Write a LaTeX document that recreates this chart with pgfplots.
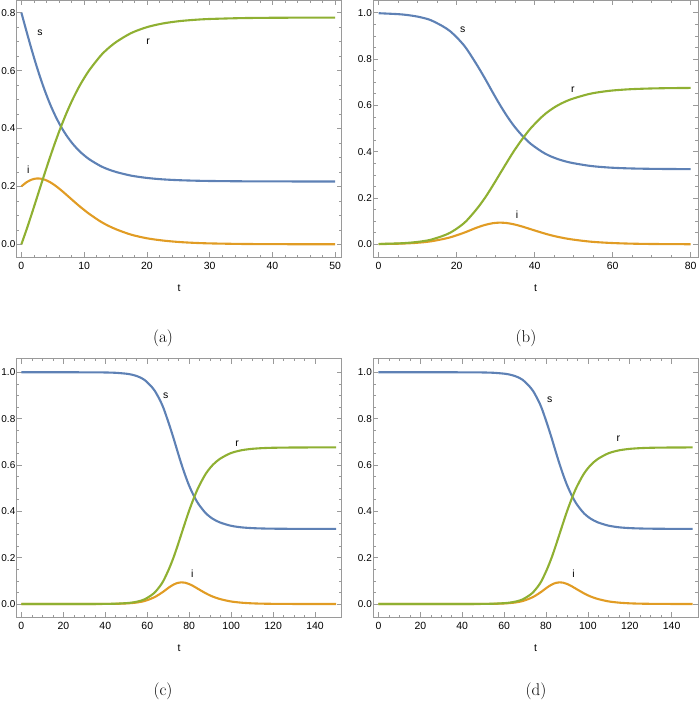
\documentclass[border=0pt]{standalone}
\usepackage{fontspec}
\newfontfamily\msans{Liberation Sans}
\usepackage{pgfplots}
\usepackage{pgfplotstable}
\pgfplotsset{compat=1.18}
\definecolor{mblue}{HTML}{5E81B5}
\definecolor{morange}{HTML}{E19C24}
\definecolor{mgreen}{HTML}{8FB032}
\definecolor{framegray}{HTML}{9A9A9A}

% SIR curves
\pgfplotstableread{
t s i r
0 0.8000 0.2000 0.0000
0.806 0.7360 0.2140 0.0500
1.570 0.6772 0.2228 0.1000
2.311 0.6230 0.2270 0.1500
3.046 0.5732 0.2268 0.2000
3.788 0.5274 0.2226 0.2500
4.550 0.4852 0.2148 0.3000
5.347 0.4464 0.2036 0.3500
6.196 0.4107 0.1893 0.4000
7.121 0.3779 0.1721 0.4500
8.153 0.3477 0.1523 0.5000
9.341 0.3199 0.1301 0.5500
10.771 0.2943 0.1057 0.6000
12.572 0.2708 0.0792 0.6500
13.73 0.2597 0.0653 0.6750
15.19 0.2491 0.0509 0.7000
17.5 0.2371 0.0332 0.7297
20 0.2292 0.0208 0.7500
22.5 0.2243 0.0131 0.7626
25 0.2215 0.0081 0.7704
27.5 0.2198 0.0050 0.7752
30 0.2187 0.0031 0.7782
35 0.2176 0.0012 0.7812
40 0.2172 0.0005 0.7824
45 0.2170 0.0002 0.7828
50 0.2169 0.0001 0.7830
}\tabA

\pgfplotstableread{
t s i r
0 0.9977 0.0009 0.0014
4.95 0.9937 0.0025 0.0038
7.45 0.9897 0.0041 0.0062
9.85 0.9835 0.0065 0.0100
11.95 0.9753 0.0097 0.0150
13.45 0.9672 0.0128 0.0200
16.25 0.9433 0.0217 0.0350
18.35 0.9200 0.0300 0.0500
20.65 0.8825 0.0425 0.0750
22.45 0.8465 0.0535 0.1000
25.05 0.7788 0.0712 0.1500
27.25 0.7165 0.0835 0.2000
29.15 0.6592 0.0908 0.2500
30.95 0.6065 0.0935 0.3000
32.75 0.5580 0.0920 0.3500
34.6 0.5134 0.0866 0.4000
36.65 0.4724 0.0776 0.4500
38.95 0.4346 0.0654 0.5000
41.85 0.3999 0.0502 0.5500
43.65 0.3835 0.0415 0.5750
45.95 0.3679 0.0321 0.6000
49.15 0.3529 0.0221 0.6250
54.25 0.3385 0.0115 0.6500
59.25 0.3312 0.0060 0.6628
64.25 0.3277 0.0030 0.6693
69.25 0.3260 0.0015 0.6725
74.25 0.3251 0.0008 0.6742
80 0.3246 0.0003 0.6751
}\tabB

\pgfplotstableread{
t s i r
0 1.0000 0.0000 0.0000
26.2 1.0000 0.0000 0.0000
35.2 0.9997 0.0001 0.0002
40.2 0.9992 0.0003 0.0005
45.2 0.9977 0.0009 0.0014
50.2 0.9937 0.0025 0.0038
52.7 0.9897 0.0041 0.0062
55.1 0.9835 0.0065 0.0100
57.2 0.9753 0.0097 0.0150
58.7 0.9672 0.0128 0.0200
61.5 0.9433 0.0217 0.0350
63.6 0.9200 0.0300 0.0500
65.9 0.8825 0.0425 0.0750
67.7 0.8465 0.0535 0.1000
70.3 0.7788 0.0712 0.1500
72.5 0.7165 0.0835 0.2000
74.4 0.6592 0.0908 0.2500
76.2 0.6065 0.0935 0.3000
78.0 0.5580 0.0920 0.3500
79.85 0.5134 0.0866 0.4000
81.9 0.4724 0.0776 0.4500
84.2 0.4346 0.0654 0.5000
87.1 0.3999 0.0502 0.5500
88.9 0.3835 0.0415 0.5750
91.2 0.3679 0.0321 0.6000
94.4 0.3529 0.0221 0.6250
99.5 0.3385 0.0115 0.6500
104.5 0.3312 0.0060 0.6628
109.5 0.3277 0.0030 0.6693
114.5 0.3260 0.0015 0.6725
119.5 0.3251 0.0008 0.6742
129.5 0.3244 0.0002 0.6754
139.5 0.3243 0.0001 0.6757
150 0.3242 0.0000 0.6758
}\tabC

\pgfplotstableread{
t s i r
0 1.0000 0.0000 0.0000
36.4 1.0000 0.0000 0.0000
45.4 0.9997 0.0001 0.0002
50.4 0.9992 0.0003 0.0005
55.4 0.9977 0.0009 0.0014
60.4 0.9937 0.0025 0.0038
62.9 0.9897 0.0041 0.0062
65.3 0.9835 0.0065 0.0100
67.4 0.9753 0.0097 0.0150
68.9 0.9672 0.0128 0.0200
71.7 0.9433 0.0217 0.0350
73.8 0.9200 0.0300 0.0500
76.1 0.8825 0.0425 0.0750
77.9 0.8465 0.0535 0.1000
80.5 0.7788 0.0712 0.1500
82.7 0.7165 0.0835 0.2000
84.6 0.6592 0.0908 0.2500
86.4 0.6065 0.0935 0.3000
88.2 0.5580 0.0920 0.3500
90.05 0.5134 0.0866 0.4000
92.1 0.4724 0.0776 0.4500
94.4 0.4346 0.0654 0.5000
97.3 0.3999 0.0502 0.5500
99.1 0.3835 0.0415 0.5750
101.4 0.3679 0.0321 0.6000
104.6 0.3529 0.0221 0.6250
109.7 0.3385 0.0115 0.6500
114.7 0.3312 0.0060 0.6628
119.7 0.3277 0.0030 0.6693
124.7 0.3260 0.0015 0.6725
129.7 0.3251 0.0008 0.6742
139.7 0.3244 0.0002 0.6754
150 0.3243 0.0001 0.6757
}\tabD

\tikzset{lbl/.style={font=\msans\fontsize{10.5}{12}\selectfont}}
\pgfplotsset{
  sirpanel/.style={
    scale only axis, anchor=south west, width=325bp,
    axis line style={framegray, line width=0.8bp},
    tick align=inside, xtick pos=both, ytick pos=both,
    xticklabel pos=lower, yticklabel pos=left,
    major tick length=5bp, minor tick length=2.7bp,
    every tick/.style={framegray, line width=0.6bp},
    tick label style={font=\msans\fontsize{10.5}{12}\selectfont, black},
    /pgf/number format/assume math mode=true,
    xticklabel style={yshift=-1.5bp},
    yticklabel style={font=\msans\fontsize{10}{12}\selectfont, inner xsep=1bp},
    y tick label style={/pgf/number format/fixed, /pgf/number format/fixed zerofill, /pgf/number format/precision=1},
    scaled y ticks=false,
    ytick={0,0.2,0.4,0.6,0.8,1.0}, minor y tick num=3,
    xlabel={t},
    xlabel style={font=\msans\fontsize{10.5}{12}\selectfont, at={(axis description cs:0.5,0)}, anchor=center, yshift=-31bp},
    every axis plot/.append style={smooth, line width=2.1bp, no markers},
  },
}

\begin{document}
\begin{tikzpicture}
% (a)
\begin{axis}[sirpanel, at={(16.5bp,450.7bp)}, height=257bp,
  xmin=-0.78, xmax=51, ymin=-0.0449, ymax=0.8428,
  xtick={0,10,20,30,40,50}, minor x tick num=4]
\addplot[mblue] table[x=t,y=s]{\tabA};
\addplot[morange] table[x=t,y=i]{\tabA};
\addplot[mgreen] table[x=t,y=r]{\tabA};
\node[lbl] at (axis cs:2.96,0.732) {s};
\node[lbl] at (axis cs:20.2,0.700) {r};
\node[lbl] at (axis cs:1.1,0.257) {i};
\end{axis}
% (b)
\begin{axis}[sirpanel, at={(373bp,450.7bp)}, height=257bp,
  xmin=-1.44, xmax=81.9, ymin=-0.0561, ymax=1.0535,
  xtick={0,20,40,60,80}, minor x tick num=3]
\addplot[mblue] table[x=t,y=s]{\tabB};
\addplot[morange] table[x=t,y=i]{\tabB};
\addplot[mgreen] table[x=t,y=r]{\tabB};
\node[lbl] at (axis cs:21.6,0.928) {s};
\node[lbl] at (axis cs:49.8,0.669) {r};
\node[lbl] at (axis cs:35.5,0.127) {i};
\end{axis}
% (c)
\begin{axis}[sirpanel, at={(16.5bp,90.7bp)}, height=258.6bp,
  xmin=-2.33, xmax=152.6, ymin=-0.0574, ymax=1.0587,
  xtick={0,20,40,60,80,100,120,140}, minor x tick num=3]
\addplot[mblue] table[x=t,y=s]{\tabC};
\addplot[morange] table[x=t,y=i]{\tabC};
\addplot[mgreen] table[x=t,y=r]{\tabC};
\node[lbl] at (axis cs:68.8,0.899) {s};
\node[lbl] at (axis cs:102.8,0.694) {r};
\node[lbl] at (axis cs:81.5,0.129) {i};
\end{axis}
% (d)
\begin{axis}[sirpanel, at={(373bp,90.7bp)}, height=258.6bp,
  xmin=-2.6, xmax=152.6, ymin=-0.0574, ymax=1.0587,
  xtick={0,20,40,60,80,100,120,140}, minor x tick num=3]
\addplot[mblue] table[x=t,y=s]{\tabD};
\addplot[morange] table[x=t,y=i]{\tabD};
\addplot[mgreen] table[x=t,y=r]{\tabD};
\node[lbl] at (axis cs:81.8,0.880) {s};
\node[lbl] at (axis cs:114.6,0.712) {r};
\node[lbl] at (axis cs:93.2,0.129) {i};
\end{axis}
\node[font=\fontsize{17}{20}\selectfont] at (163bp,370bp) {(a)};
\node[font=\fontsize{17}{20}\selectfont] at (526bp,370bp) {(b)};
\node[font=\fontsize{17}{20}\selectfont] at (163bp,17bp) {(c)};
\node[font=\fontsize{17}{20}\selectfont] at (536bp,17bp) {(d)};
\pgfresetboundingbox
\useasboundingbox (0,0) rectangle (700bp,708bp);
\end{tikzpicture}
\end{document}
